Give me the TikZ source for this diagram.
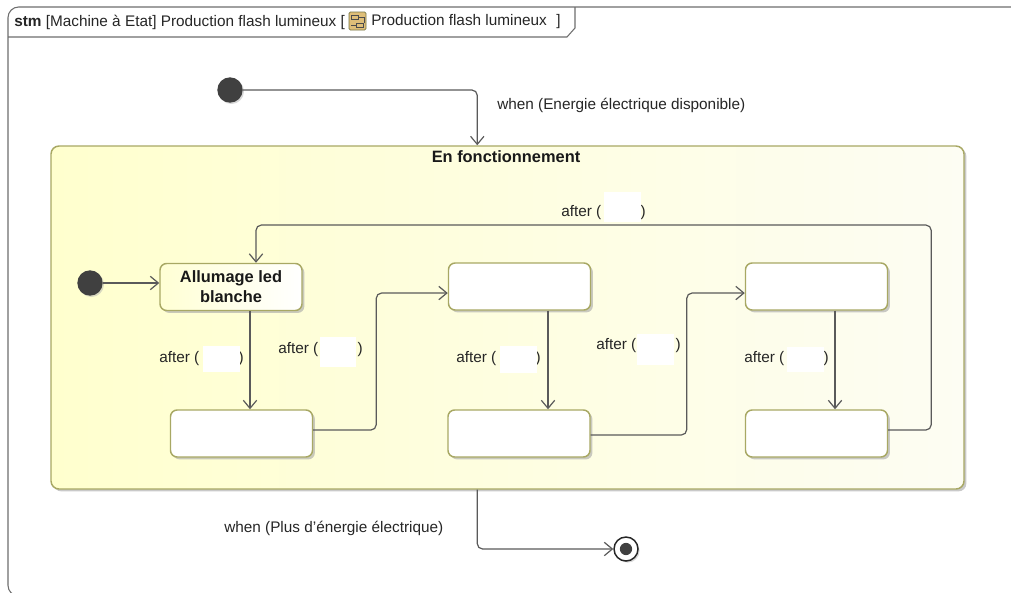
\documentclass[tikz,border=0pt]{standalone}
\usepackage{fontspec}
\setmainfont{Liberation Sans}
\usetikzlibrary{arrows.meta,shadows,calc}
\definecolor{framecol}{RGB}{110,110,110}
\definecolor{linecol}{RGB}{90,90,90}
\definecolor{olive}{RGB}{168,168,100}
\definecolor{compL}{RGB}{255,255,206}
\definecolor{compR}{RGB}{253,253,243}
\definecolor{stL}{RGB}{255,255,212}
\definecolor{pseudo}{RGB}{64,64,64}
\definecolor{icontan}{RGB}{222,190,120}
\begin{document}
\begin{tikzpicture}[x=0.75pt,y=-0.75pt,
  txt/.style={font=\fontsize{11.5}{13.5}\selectfont, text=black!85, inner sep=0pt},
  lbl/.style={txt, anchor=west},
  boldtxt/.style={font=\fontsize{12.3}{14}\selectfont\bfseries, text=black!90, inner sep=0pt},
  trans/.style={draw=linecol, line width=0.9pt, rounded corners=4pt, -{Straight Barb[length=6pt,width=10pt]}},
  shad/.style={drop shadow={shadow xshift=1.8pt, shadow yshift=-1.8pt, fill=black!35, opacity=0.6}},
  statebox/.style={draw=olive, line width=1.1pt, rounded corners=5pt, fill=white, shad,
     minimum width=106.5pt, minimum height=35.25pt, inner sep=0pt},
  initst/.style={circle, fill=pseudo, minimum size=19pt, inner sep=0pt,
     drop shadow={shadow xshift=1pt, shadow yshift=-1pt, fill=black!30}},
  hide/.style={fill=white}
]
\clip (0,0) rectangle (1011,593);
\useasboundingbox (0,0) rectangle (1011,593);
\fill[white] (0,0) rectangle (1011,593);
% frame
\draw[framecol, line width=0.8pt, rounded corners=8pt] (8,7) rectangle (1040,596);
\draw[framecol, line width=0.8pt] (8,37) -- (567,37) -- (575,28) -- (575,7);
\node[txt, anchor=west] (title) at (14,22) {\textbf{stm} [Machine à Etat] Production flash lumineux [};
\node[txt, anchor=west] (title2) at (371,22) {Production flash lumineux \hspace{4pt}]};
% icon
\draw[olive!70!black, fill=icontan, line width=0.5pt, rounded corners=1pt] (349,12) rectangle (366,30);
\draw[black!70, line width=0.5pt] (351,15) rectangle (358,19) (356,23) rectangle (363,27) (358,17) -- (364,17) -- (364,23) (351,25) -- (356,25);

% composite
\node[draw=olive, line width=1.1pt, rounded corners=6pt, left color=compL, right color=compR, shad,
  minimum width=684.75pt, minimum height=257.25pt, inner sep=0pt] (comp) at (507.5,317.5) {};
\node[boldtxt] (comptitle) at (506,157) {En fonctionnement};

% top initial
\node[initst] (init1) at (230,90) {};
\draw[trans] (init1.east) -| ($(comp.north west)+(427,0)$);
\node[lbl] (whenon) at (497,105) {when (Energie électrique disponible)};

% states
\node[statebox, left color=stL, right color=white, align=center, boldtxt, font=\fontsize{12.3}{15}\selectfont\bfseries] (A) at (231,287) {Allumage led\\blanche};
\node[statebox] (B) at (241.5,433.5) {};
\node[statebox] (C) at (519.5,286.5) {};
\node[statebox] (D) at (519,433.5) {};
\node[statebox] (E) at (816.5,286.5) {};
\node[statebox] (F) at (816.5,433.5) {};

% inner initial
\node[initst] (init2) at (90,283) {};
\draw[trans] (init2.east) -- (init2 -| A.west);

% transitions
\draw[trans] ([xshift=14.25pt]A.south) -- ([xshift=14.25pt]A.south |- B.north);
\draw[trans] ([yshift=2.6pt]B.east) -- ++(63,0) |- ([yshift=-4.9pt]C.west);
\draw[trans] ([xshift=21.4pt]C.south) -- ([xshift=21.4pt]C.south |- D.north);
\draw[trans] ([yshift=-1.1pt]D.east) -- ++(96,0) |- ([yshift=-4.9pt]E.west);
\draw[trans] ([xshift=13.9pt]E.south) -- ([xshift=13.9pt]E.south |- F.north);
\draw[trans] ([yshift=2.6pt]F.east) -- ++(43,0) -- ++(0,-205) -| ([xshift=18.75pt]A.north);

% labels
\node[lbl] (l1) at (159,359) {after (\hspace{29.5pt})};
\fill[hide] (203,346) rectangle (240,372);
\node[lbl] (l2) at (278,350) {after (\hspace{29.5pt})};
\fill[hide] (320,337) rectangle (356,367);
\node[lbl] (l3) at (456,359) {after (\hspace{29.5pt})};
\fill[hide] (500,346) rectangle (537,373);
\node[lbl] (l4) at (596,346) {after (\hspace{29.5pt})};
\fill[hide] (637,334) rectangle (674,365);
\node[lbl] (l5) at (744,359) {after (\hspace{29.5pt})};
\fill[hide] (787,347) rectangle (824,372);
\node[lbl] (l6) at (561,213) {after (\hspace{29.5pt})};
\fill[hide] (604,192) rectangle (641,222);

% final
\node[circle, draw=black!85, fill=white, line width=1.1pt, minimum size=18pt, inner sep=0pt,
  drop shadow={shadow xshift=1.2pt, shadow yshift=-1.2pt, fill=black!30}] (fin) at (626,549) {};
\fill[pseudo] (fin.center) circle (4.6pt);
\draw[trans] ($(comp.south west)+(427,0)$) |- (fin.west);
\node[lbl] (whenoff) at (224,528) {when (Plus d'énergie électrique)};
\end{tikzpicture}
\end{document}
